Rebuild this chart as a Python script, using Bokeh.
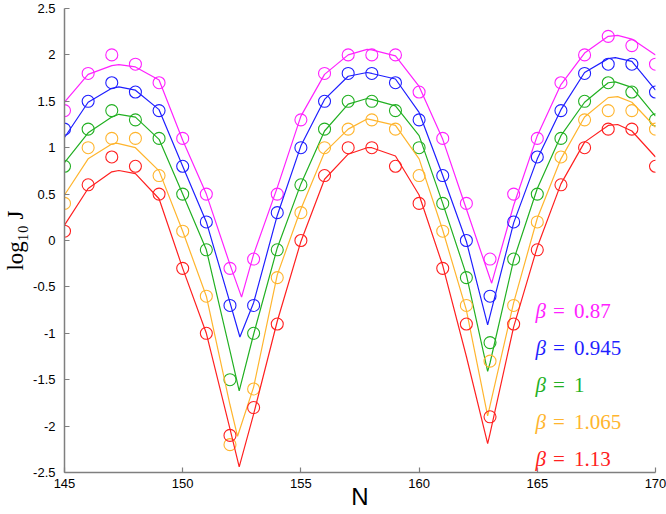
from bokeh.plotting import figure
from bokeh.models import Range1d, Label, NumeralTickFormatter, FixedTicker
from bokeh.embed import file_html
from bokeh.resources import INLINE

# ---- data ----
N = list(range(145, 171))
betas = ["0.87", "0.945", "1", "1.065", "1.13"]
colors = ["#ff22ff", "#1f1fff", "#22b022", "#ffb52e", "#ff2020"]

pts_m = [1.4, 1.8, 2.0, 1.9, 1.7, 1.1, 0.5, -0.3, -0.2, 0.5, 1.3, 1.8, 2.0, 2.0, 2.0, 1.6, 1.1, 0.4, -0.2, 0.5, 1.1, 1.7, 2.0, 2.2, 2.1, 1.9]
pts_b = [1.2, 1.5, 1.7, 1.6, 1.4, 0.8, 0.2, -0.7, -0.7, 0.3, 1.0, 1.5, 1.8, 1.8, 1.7, 1.3, 0.7, 0.0, -0.6, 0.2, 0.9, 1.4, 1.8, 1.9, 1.9, 1.6]
pts_g = [0.8, 1.2, 1.4, 1.3, 1.1, 0.5, -0.1, -1.5, -1.0, -0.1, 0.6, 1.2, 1.5, 1.5, 1.4, 1.0, 0.4, -0.4, -1.1, -0.2, 0.5, 1.1, 1.5, 1.7, 1.6, 1.3]
pts_o = [0.4, 1.0, 1.1, 1.1, 0.7, 0.1, -0.6, -2.2, -1.6, -0.4, 0.3, 1.0, 1.2, 1.3, 1.2, 0.7, 0.1, -0.7, -1.3, -0.7, 0.2, 0.9, 1.3, 1.4, 1.4, 1.2]
pts_r = [0.1, 0.6, 0.9, 0.8, 0.5, -0.3, -1.0, -2.1, -1.8, -0.9, 0.0, 0.7, 1.0, 1.0, 0.8, 0.4, -0.3, -0.9, -1.9, -0.9, -0.1, 0.6, 1.0, 1.2, 1.2, 0.8]

fit_n_m = [145, 146, 147, 147.3, 148, 149, 150, 151, 152, 152.49, 153, 154, 155, 156, 157, 157.8, 158, 159, 160, 161, 162, 163, 163.07, 164, 165, 166, 167, 168, 168.4, 169, 170]
fit_m = [1.49, 1.79, 1.885, 1.895, 1.87, 1.73, 1.08, 0.50, -0.26, -0.61, -0.15, 0.57, 1.34, 1.79, 2.00, 2.06, 2.055, 1.99, 1.66, 1.09, 0.34, -0.41, -0.46, 0.38, 1.13, 1.68, 2.02, 2.20, 2.21, 2.17, 2.00]

fit_n_b = [145, 146, 147, 147.3, 148, 149, 150, 151, 152, 152.42, 153, 154, 155, 156, 157, 157.8, 158, 159, 160, 161, 162, 162.9, 163, 164, 165, 166, 167, 168, 168.3, 169, 170]
fit_b = [1.11, 1.49, 1.64, 1.655, 1.62, 1.41, 0.80, 0.20, -0.67, -1.04, -0.67, 0.27, 1.02, 1.52, 1.77, 1.81, 1.80, 1.74, 1.38, 0.70, -0.01, -0.91, -0.81, 0.19, 0.88, 1.41, 1.81, 1.96, 1.97, 1.93, 1.62]

fit_n_g = [145, 146, 147, 147.3, 148, 149, 150, 151, 152, 152.39, 153, 154, 155, 156, 157, 157.8, 158, 159, 160, 161, 162, 162.9, 163, 164, 165, 166, 167, 168, 168.3, 169, 170]
fit_g = [0.84, 1.16, 1.33, 1.36, 1.33, 1.09, 0.50, -0.10, -1.19, -1.62, -1.01, -0.08, 0.61, 1.18, 1.47, 1.53, 1.52, 1.45, 1.13, 0.40, -0.37, -1.41, -1.32, -0.21, 0.56, 1.13, 1.49, 1.70, 1.71, 1.65, 1.34]

fit_n_o = [145, 146, 147, 147.2, 148, 149, 150, 151, 152, 152.32, 153, 154, 155, 156, 157, 157.8, 158, 159, 160, 161, 162, 162.9, 163, 164, 165, 166, 167, 168, 168.4, 169, 170]
fit_o = [0.49, 0.88, 1.04, 1.05, 1.00, 0.75, 0.10, -0.60, -1.77, -2.11, -1.58, -0.37, 0.34, 0.95, 1.20, 1.31, 1.30, 1.24, 0.88, 0.11, -0.75, -1.89, -1.78, -0.67, 0.24, 0.88, 1.33, 1.54, 1.55, 1.49, 1.22]

fit_n_r = [145, 146, 147, 147.3, 148, 149, 150, 151, 152, 152.39, 153, 154, 155, 156, 157, 157.8, 158, 159, 160, 161, 162, 162.9, 163, 164, 165, 166, 167, 168, 168.4, 169, 170]
fit_r = [0.165, 0.56, 0.74, 0.754, 0.72, 0.45, -0.30, -1.00, -2.03, -2.44, -1.87, -0.87, -0.01, 0.66, 0.93, 1.00, 1.00, 0.91, 0.49, -0.27, -1.25, -2.19, -2.08, -0.93, -0.07, 0.61, 1.06, 1.24, 1.25, 1.18, 0.90]

x_ticks = [145, 150, 155, 160, 165, 170]
y_ticks = [-2.5, -2, -1.5, -1, -0.5, 0, 0.5, 1, 1.5, 2, 2.5]

# legend label baselines (data units)
legend_y = [-0.763, -1.155, -1.559, -1.959, -2.357]

# ---- figure ----
p = figure(width=666, height=514, x_range=Range1d(145, 170), y_range=Range1d(-2.5, 2.5),
           output_backend="svg", toolbar_location=None,
           min_border_left=60, min_border_right=11, min_border_top=8, min_border_bottom=42)
p.outline_line_color = None
p.xgrid.visible = False
p.ygrid.visible = False
p.background_fill_color = "white"
p.border_fill_color = "white"

for ax in (p.xaxis[0], p.yaxis[0]):
    ax.axis_line_color = "#7f7f7f"
    ax.axis_line_width = 1.5
    ax.major_tick_line_color = "#7f7f7f"
    ax.major_tick_line_width = 1.2
    ax.major_tick_in = 5
    ax.major_tick_out = 0
    ax.minor_tick_line_color = None
    ax.major_label_text_font = "Liberation Sans"
    ax.major_label_text_font_size = "13px"
    ax.major_label_text_color = "black"
    ax.formatter = NumeralTickFormatter(format="0.[0]")

p.xaxis[0].ticker = FixedTicker(ticks=x_ticks)
p.yaxis[0].ticker = FixedTicker(ticks=y_ticks)
p.xaxis[0].major_label_standoff = 6
p.yaxis[0].major_label_standoff = 9

p.xaxis[0].axis_label = "N"
p.xaxis[0].axis_label_text_font = "Liberation Sans"
p.xaxis[0].axis_label_text_font_size = "24px"
p.xaxis[0].axis_label_text_font_style = "normal"
p.xaxis[0].axis_label_text_color = "black"
p.xaxis[0].axis_label_standoff = -8

p.yaxis[0].axis_label = "log₁₀ J"
p.yaxis[0].axis_label_text_font = "Liberation Serif"
p.yaxis[0].axis_label_text_font_size = "23px"
p.yaxis[0].axis_label_text_font_style = "normal"
p.yaxis[0].axis_label_text_color = "black"
p.yaxis[0].axis_label_standoff = 2

fits = [(fit_n_m, fit_m), (fit_n_b, fit_b), (fit_n_g, fit_g), (fit_n_o, fit_o), (fit_n_r, fit_r)]
pts = [pts_m, pts_b, pts_g, pts_o, pts_r]

for (fx, fy), py, c in zip(fits, pts, colors):
    p.line(fx, fy, line_color=c, line_width=1.2)
    p.scatter(N, py, marker="circle", size=12, fill_color=None, line_color=c, line_width=1.1)

# legend texts
for b, yy, c in zip(betas, legend_y, colors):
    p.add_layout(Label(x=164.92, y=yy, text="β", text_font="Liberation Serif", text_font_style="italic",
                       text_font_size="21px", text_color=c, text_baseline="alphabetic"))
    p.add_layout(Label(x=165.66, y=yy, text="=", text_font="Liberation Serif",
                       text_font_size="21px", text_color=c, text_baseline="alphabetic"))
    p.add_layout(Label(x=166.55, y=yy, text=b, text_font="Liberation Serif",
                       text_font_size="21px", text_color=c, text_baseline="alphabetic"))

open("out.html", "w").write(file_html(p, INLINE))
